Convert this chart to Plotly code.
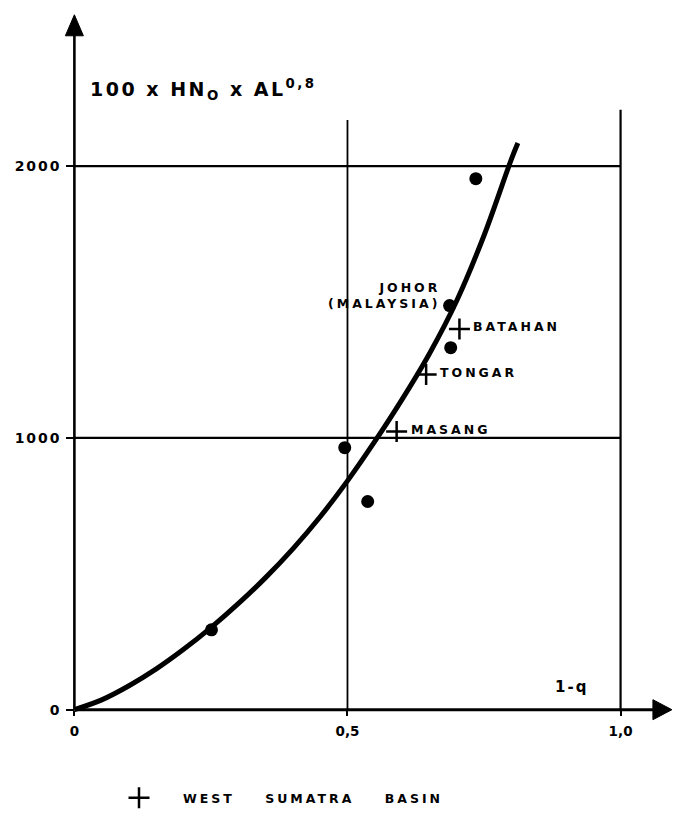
import plotly.graph_objects as go

# ---------------- data ----------------
curve_x = [0.0, 0.05, 0.10, 0.15, 0.20, 0.25, 0.30, 0.35, 0.40, 0.45,
           0.50, 0.55, 0.60, 0.65, 0.70, 0.75, 0.80, 0.812]
curve_y = [0, 36, 88, 150, 222, 302, 390, 486, 592, 710,
           842, 987, 1142, 1310, 1505, 1745, 2025, 2085]

dot_x = [0.251, 0.495, 0.537, 0.687, 0.689, 0.735]
dot_y = [294, 964, 766, 1487, 1332, 1954]

wsb_x = [0.590, 0.644, 0.705]
wsb_y = [1024, 1233, 1401]
wsb_names = ["MASANG", "TONGAR", "BATAHAN"]

johor_x = [0.687]
johor_y = [1487]
johor_label = ["JOHOR<br>(MALAYSIA)"]

x_ticks = [0, 0.5, 1.0]
x_ticktext = ["0", "0,5", "1,0"]
y_ticks = [0, 1000, 2000]
y_ticktext = ["0", "1000", "2000"]

y_title = "100 x HN<sub>O</sub> x AL<sup>0,8</sup>"
x_title = "1-q"
legend_name = "WEST SUMATRA BASIN"

# ---------------- styling ----------------
FONT = "DejaVu Sans"
INK = "black"


def spaced(s, sp, word=None):
    st = f"letter-spacing:{sp}px"
    if word is not None:
        st += f";word-spacing:{word}px"
    return f'<span style="{st}">{s}</span>'


XR = [-0.03, 1.096]
YR = [-60, 2582]

fig = go.Figure()

fig.add_trace(go.Scatter(
    x=curve_x, y=curve_y, mode="lines",
    line=dict(color=INK, width=5, shape="spline", smoothing=1.0),
    showlegend=False, hoverinfo="skip", cliponaxis=False))

fig.add_trace(go.Scatter(
    x=dot_x, y=dot_y, mode="markers",
    marker=dict(symbol="circle", size=13, color=INK),
    showlegend=False, cliponaxis=False))

fig.add_trace(go.Scatter(
    x=wsb_x, y=wsb_y, mode="markers",
    marker=dict(symbol="cross-thin", size=15, line=dict(color=INK, width=2.5)),
    name=spaced(legend_name, 3, 23), showlegend=True, cliponaxis=False))

# labels of the West Sumatra points
for px_, py_, nm in zip(wsb_x, wsb_y, wsb_names):
    fig.add_annotation(x=px_, y=py_, text=spaced(nm, 3), showarrow=False,
                       xanchor="left", yanchor="middle", xshift=12, yshift=2,
                       font=dict(family=FONT, size=12.5, color=INK, weight="bold"))

# JOHOR label
for jx, jy, jl in zip(johor_x, johor_y, johor_label):
    fig.add_annotation(x=jx, y=jy, text=spaced(jl, 3), showarrow=False,
                       xanchor="right", yanchor="middle", align="right",
                       xshift=-8, yshift=10,
                       font=dict(family=FONT, size=12.5, color=INK, weight="bold"))

# grid lines (limited extents as in the drawing)
grid_top = {0.5: 2170, 1.0: 2208}
for xv in x_ticks[1:]:
    fig.add_shape(type="line", x0=xv, x1=xv, y0=0, y1=grid_top[xv],
                  line=dict(color=INK, width=1.8 if xv < 1 else 2.2), layer="below")
for yv in y_ticks[1:]:
    fig.add_shape(type="line", x0=0, x1=x_ticks[-1], y0=yv, y1=yv,
                  line=dict(color=INK, width=2.2), layer="below")

# axes with arrows
Y_TIP = 2557
X_TIP = 1.094
fig.add_shape(type="line", x0=0, x1=0, y0=0, y1=Y_TIP - 40,
              line=dict(color=INK, width=2.6))
fig.add_shape(type="line", x0=0, x1=X_TIP - 0.02, y0=0, y1=0,
              line=dict(color=INK, width=3))
fig.add_shape(type="path", xsizemode="pixel", ysizemode="pixel",
              xanchor=0, yanchor=Y_TIP,
              path="M 0 0 L -9 -21 L 9 -21 Z",
              fillcolor=INK, line=dict(color=INK, width=1))
fig.add_shape(type="path", xsizemode="pixel", ysizemode="pixel",
              xanchor=X_TIP, yanchor=0,
              path="M 0 0 L -19 10 L -19 -10 Z",
              fillcolor=INK, line=dict(color=INK, width=1))

# axis titles
fig.add_annotation(x=0.025, y=2281, text=spaced(y_title, 2.5), showarrow=False,
                   xanchor="left", yanchor="middle",
                   font=dict(family=FONT, size=19, color=INK, weight="bold"))
fig.add_annotation(x=0.911, y=85, text=spaced(x_title, 2), showarrow=False,
                   xanchor="center", yanchor="middle",
                   font=dict(family=FONT, size=15, color=INK, weight="bold"))

fig.update_layout(
    width=673, height=820,
    margin=dict(l=58, r=0, t=8, b=94),
    paper_bgcolor="white", plot_bgcolor="white",
    xaxis=dict(range=XR, showgrid=False, zeroline=False, showline=False,
               tickvals=x_ticks, ticktext=x_ticktext,
               ticks="outside", ticklen=5, tickwidth=2, tickcolor=INK,
               anchor="free", position=16.3 / 718,
               ticklabelstandoff=4,
               tickfont=dict(family=FONT, size=13.5, color=INK, weight="bold")),
    yaxis=dict(range=YR, showgrid=False, zeroline=False, showline=False,
               tickvals=y_ticks, ticktext=[spaced(t, 2) for t in y_ticktext],
               ticks="outside", ticklen=8, tickwidth=2, tickcolor=INK,
               anchor="free", position=16.4 / 615,
               ticklabelstandoff=2,
               tickfont=dict(family=FONT, size=14, color=INK, weight="bold")),
    legend=dict(x=(95 - 58) / 615, y=-0.1003, xanchor="left", yanchor="middle",
                orientation="h", itemwidth=78,
                font=dict(family=FONT, size=12.5, color=INK, weight="bold"),
                bgcolor="rgba(0,0,0,0)"),
    showlegend=True,
)

fig.write_html("out.html", config={"displayModeBar": False},
               post_script="document.body.style.margin='0';")
